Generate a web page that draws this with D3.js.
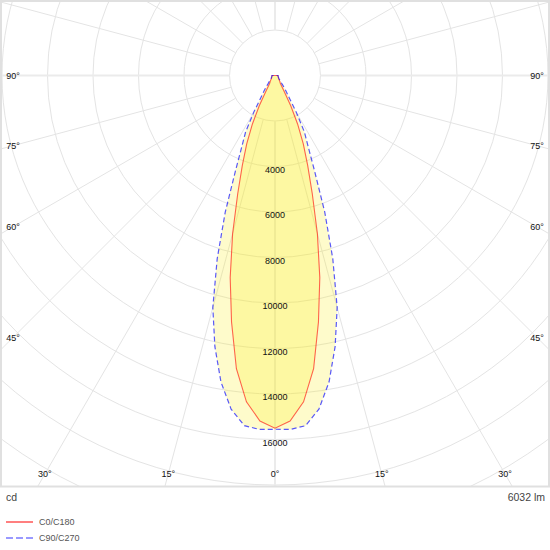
<!DOCTYPE html>
<html>
<head>
<meta charset="utf-8">
<script src="https://cdn.jsdelivr.net/npm/d3@7"></script>
<style>
  body { margin: 0; background: #fff; }
  text { font-family: "Liberation Sans", Arial, sans-serif; }
</style>
</head>
<body>
<div id="chart"></div>
<script>
// gamma angles (deg) and intensities (cd)
var gammaAngles = [0, 2.5, 5, 7.5, 10, 12.5, 15, 17.5, 20, 22.5, 25, 27.5, 30, 32.5, 35, 37.5, 40, 45, 50, 60, 70, 80, 90];
var c0Values = [15500, 15200, 14400, 13000, 11000, 9100, 7200, 5450, 4200, 3250, 2350, 1500, 800, 500, 400, 360, 320, 250, 200, 170, 150, 140, 130];
var c90Values = [15550, 15570, 15450, 14790, 13680, 12210, 10560, 8450, 6400, 4550, 3450, 2800, 1880, 1170, 850, 650, 480, 330, 240, 180, 150, 140, 130];
var ringValues = [2000, 4000, 6000, 8000, 10000, 12000, 14000, 16000, 18000, 20000, 22000];
var ringLabels = ["4000", "6000", "8000", "10000", "12000", "14000", "16000"];
var angleTicks = [0, 15, 30, 45, 60, 75, 90];
var seriesNames = ["C0/C180", "C90/C270"];
var fluxLabel = "6032 lm";
var unitLabel = "cd";

var svgWidth = 550;
var svgHeight = 550;
var plotW = 550, plotH = 487;
var cx = 275, cy = 75.5;

var svg = d3.select("#chart")
  .append("svg")
  .attr("width", svgWidth)
  .attr("height", svgHeight);

svg.append("clipPath")
  .attr("id", "plotclip")
  .append("rect")
  .attr("x", 2).attr("y", 2)
  .attr("width", plotW - 4).attr("height", plotH - 3);

var r = d3.scaleLinear().domain([0, 2000]).range([0, 45.5]);

var plot = svg.append("g").attr("clip-path", "url(#plotclip)");
var g = plot.append("g").attr("transform", `translate(${cx}, ${cy})`);

// rings
g.selectAll("circle.ring")
  .data(ringValues)
  .enter()
  .append("circle")
  .attr("class", "ring")
  .attr("r", d => r(d))
  .attr("fill", "none")
  .attr("stroke", "#e4e4e4")
  .attr("stroke-width", 1);

// spokes every 15 deg, starting from the inner ring
var spokes = d3.range(0, 360, 15);
g.selectAll("line.spoke")
  .data(spokes)
  .enter()
  .append("line")
  .attr("class", "spoke")
  .attr("x1", d => r(2000) * Math.sin(d * Math.PI / 180))
  .attr("y1", d => r(2000) * Math.cos(d * Math.PI / 180))
  .attr("x2", d => r(26000) * Math.sin(d * Math.PI / 180))
  .attr("y2", d => r(26000) * Math.cos(d * Math.PI / 180))
  .attr("stroke", d => d % 90 == 0 ? "#ebebeb" : "#e4e4e4")
  .attr("stroke-width", d => d % 90 == 0 ? 2 : 1);

// symmetric curve: gamma from -90 (right) through 0 (down) to 90 (left)
function fullCurve(values) {
  var pts = [];
  for (var i = gammaAngles.length - 1; i > 0; i--) {
    pts.push({ a: -gammaAngles[i], v: values[i] });
  }
  for (var j = 0; j < gammaAngles.length; j++) {
    pts.push({ a: gammaAngles[j], v: values[j] });
  }
  return pts;
}

var radial = d3.lineRadial()
  .angle(d => Math.PI + d.a * Math.PI / 180)
  .radius(d => r(d.v))
  .curve(d3.curveLinearClosed);

var c90Data = fullCurve(c90Values);
var c0Data = fullCurve(c0Values);

g.append("path")
  .attr("d", radial(c90Data))
  .attr("fill", "rgb(250,235,20)")
  .attr("fill-opacity", 0.22)
  .attr("stroke", "none");

g.append("path")
  .attr("d", radial(c0Data))
  .attr("fill", "rgb(250,235,20)")
  .attr("fill-opacity", 0.22)
  .attr("stroke", "none");

g.append("path")
  .attr("d", radial(c0Data))
  .attr("fill", "none")
  .attr("stroke", "red")
  .attr("stroke-opacity", 0.6)
  .attr("stroke-width", 1.1);

g.append("path")
  .attr("d", radial(c90Data))
  .attr("fill", "none")
  .attr("stroke", "blue")
  .attr("stroke-opacity", 0.65)
  .attr("stroke-width", 1.2)
  .attr("stroke-dasharray", "5,3");

// intensity labels down the 0 deg axis
g.selectAll("text.rlab")
  .data(ringLabels)
  .enter()
  .append("text")
  .attr("class", "rlab")
  .attr("x", 0)
  .attr("y", d => r(+d) + 3)
  .attr("dy", "0.35em")
  .attr("text-anchor", "middle")
  .attr("font-size", "9px")
  .attr("fill", "#111")
  .text(d => d);

// angle labels where spokes meet an inset frame
var inL = 13, inR = 537, inB = 474;
var angleLabels = [];
angleTicks.forEach(function(a) {
  var sides = a == 0 ? [1] : [-1, 1];
  sides.forEach(function(s) {
    var rad = a * Math.PI / 180;
    var sx = Math.sin(rad), sy = Math.cos(rad);
    var tx = sx > 0.0001 ? (cx - inL) / sx : Infinity;
    var ty = sy > 0.0001 ? (inB - cy) / sy : Infinity;
    var t = Math.min(tx, ty);
    angleLabels.push({ x: cx + s * sx * t, y: cy + sy * t, label: a + "°" });
  });
});

svg.selectAll("text.alab")
  .data(angleLabels)
  .enter()
  .append("text")
  .attr("class", "alab")
  .attr("x", d => d.x)
  .attr("y", d => d.y)
  .attr("dy", "0.35em")
  .attr("text-anchor", "middle")
  .attr("font-size", "9px")
  .attr("fill", "#111")
  .text(d => d.label);

// frame
svg.append("rect")
  .attr("x", 1).attr("y", 1)
  .attr("width", plotW - 2).attr("height", plotH - 1.5)
  .attr("fill", "none")
  .attr("stroke", "#e0e0e0")
  .attr("stroke-width", 2);

svg.append("text")
  .attr("x", 6).attr("y", 501)
  .attr("font-size", "10.5px")
  .attr("fill", "#444")
  .text(unitLabel);

svg.append("text")
  .attr("x", 545).attr("y", 501)
  .attr("text-anchor", "end")
  .attr("font-size", "10.5px")
  .attr("fill", "#444")
  .text(fluxLabel);

// legend
var legend = svg.append("g").attr("transform", "translate(6, 522)");
var legendStyles = [
  { color: "red", opacity: 0.5, dash: null },
  { color: "blue", opacity: 0.4, dash: "7,3" }
];
seriesNames.forEach(function(name, i) {
  var row = legend.append("g").attr("transform", `translate(0, ${i * 16})`);
  row.append("line")
    .attr("x1", 0).attr("x2", 27)
    .attr("y1", 0).attr("y2", 0)
    .attr("stroke", legendStyles[i].color)
    .attr("stroke-opacity", legendStyles[i].opacity)
    .attr("stroke-width", 2)
    .attr("stroke-dasharray", legendStyles[i].dash);
  row.append("text")
    .attr("x", 33).attr("y", 0)
    .attr("dy", "0.35em")
    .attr("font-size", "9px")
    .attr("fill", "#555")
    .text(name);
});
</script>
</body>
</html>
